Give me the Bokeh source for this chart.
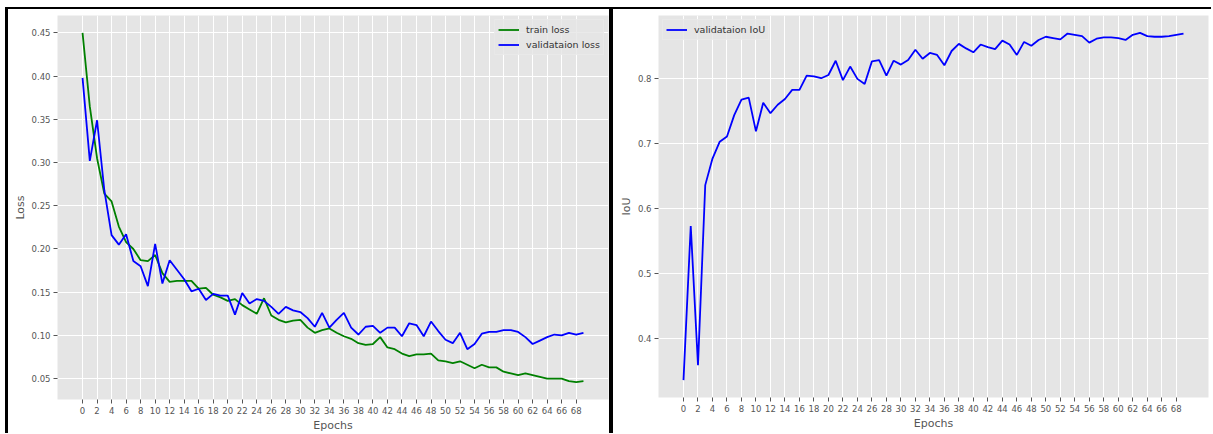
from bokeh.plotting import figure
from bokeh.models import Range1d, FixedTicker, Legend, LegendItem, PrintfTickFormatter
from bokeh.layouts import row
from bokeh.embed import file_html
from bokeh.resources import INLINE

epochs = list(range(70))

train_loss = [0.450, 0.365, 0.305, 0.264, 0.255, 0.226, 0.208, 0.200, 0.187, 0.186,
              0.193, 0.172, 0.162, 0.163, 0.163, 0.163, 0.154, 0.155, 0.147, 0.144,
              0.140, 0.142, 0.135, 0.130, 0.125, 0.143, 0.123, 0.118, 0.115, 0.117,
              0.118, 0.109, 0.103, 0.106, 0.108, 0.103, 0.099, 0.096, 0.091, 0.089,
              0.090, 0.098, 0.086, 0.084, 0.079, 0.076, 0.078, 0.078, 0.079, 0.071,
              0.070, 0.068, 0.070, 0.066, 0.062, 0.066, 0.063, 0.063, 0.058, 0.056,
              0.054, 0.056, 0.054, 0.052, 0.050, 0.050, 0.050, 0.047, 0.046, 0.047]

val_loss = [0.398, 0.302, 0.349, 0.268, 0.216, 0.205, 0.217, 0.186, 0.180, 0.157,
            0.206, 0.160, 0.187, 0.176, 0.165, 0.151, 0.154, 0.141, 0.148, 0.146,
            0.146, 0.124, 0.149, 0.137, 0.142, 0.140, 0.133, 0.125, 0.133, 0.129,
            0.127, 0.120, 0.110, 0.126, 0.109, 0.118, 0.126, 0.109, 0.101, 0.110,
            0.111, 0.103, 0.109, 0.109, 0.099, 0.114, 0.112, 0.099, 0.116, 0.105,
            0.095, 0.091, 0.103, 0.084, 0.090, 0.102, 0.104, 0.104, 0.106, 0.106,
            0.104, 0.098, 0.090, 0.094, 0.098, 0.101, 0.100, 0.103, 0.101, 0.103]

val_iou = [0.335, 0.573, 0.358, 0.636, 0.677, 0.703, 0.711, 0.744, 0.768, 0.771,
           0.719, 0.763, 0.747, 0.760, 0.769, 0.783, 0.783, 0.805, 0.804, 0.801,
           0.806, 0.828, 0.798, 0.819, 0.800, 0.792, 0.827, 0.829, 0.805, 0.828,
           0.822, 0.829, 0.845, 0.831, 0.840, 0.837, 0.821, 0.843, 0.854, 0.847,
           0.841, 0.853, 0.849, 0.846, 0.859, 0.853, 0.837, 0.857, 0.851, 0.860,
           0.865, 0.863, 0.861, 0.870, 0.868, 0.866, 0.856, 0.862, 0.864, 0.864,
           0.863, 0.860, 0.868, 0.871, 0.866, 0.865, 0.865, 0.866, 0.868, 0.870]

x_ticks = list(range(0, 69, 2))
loss_ticks = [0.05, 0.10, 0.15, 0.20, 0.25, 0.30, 0.35, 0.40, 0.45]
iou_ticks = [0.4, 0.5, 0.6, 0.7, 0.8]

FONT = "DejaVu Sans"
GRAY = "#555555"


def padded(lo, hi, frac=0.05):
    d = (hi - lo) * frac
    return Range1d(lo - d, hi + d)


def style(p, xlabel, ylabel, yticks, yfmt):
    p.background_fill_color = "#E5E5E5"
    p.border_fill_color = "white"
    p.outline_line_color = None
    p.grid.grid_line_color = "white"
    p.grid.grid_line_width = 1
    p.xaxis.ticker = FixedTicker(ticks=x_ticks)
    p.yaxis.ticker = FixedTicker(ticks=yticks)
    p.yaxis.formatter = PrintfTickFormatter(format=yfmt)
    p.xaxis.axis_label = xlabel
    p.yaxis.axis_label = ylabel
    for ax in p.axis:
        ax.axis_line_color = None
        ax.major_tick_line_color = GRAY
        ax.major_tick_in = 0
        ax.major_tick_out = 4
        ax.minor_tick_line_color = None
        ax.major_label_text_font = FONT
        ax.major_label_text_font_size = "8.5px"
        ax.major_label_text_color = GRAY
        ax.axis_label_text_font = FONT
        ax.axis_label_text_font_style = "normal"
        ax.axis_label_text_font_size = "11px"
        ax.axis_label_text_color = GRAY
    p.xaxis.major_label_standoff = 3
    p.xaxis.axis_label_standoff = 2
    p.yaxis.major_label_standoff = 3
    p.yaxis.axis_label_standoff = 2


def style_legend(lg):
    lg.background_fill_color = "#E5E5E5"
    lg.background_fill_alpha = 0.8
    lg.border_line_color = "#EEEEEE"
    lg.border_line_width = 1
    lg.label_text_font = FONT
    lg.label_text_font_size = "9.5px"
    lg.label_text_color = "#333333"
    lg.glyph_width = 21
    lg.glyph_height = 13
    lg.label_standoff = 7
    lg.label_height = 13
    lg.spacing = 2
    lg.padding = 3
    lg.margin = 4


# ---- left: losses ----
p1 = figure(frame_width=546, frame_height=382, output_backend="svg", toolbar_location=None,
            x_range=Range1d(-3.45, 72.45),
            y_range=padded(min(train_loss + val_loss), max(train_loss + val_loss)),
            min_border_left=49, min_border_right=6, min_border_top=6, min_border_bottom=36,
            margin=(7, 0, 0, 5),
            styles={"border-left": "3px solid black", "border-top": "2px solid black",
                    "border-right": "2px solid black"})
style(p1, "Epochs", "Loss", loss_ticks, "%.2f")
r_tr = p1.line(epochs, train_loss, line_color="green", line_width=1.8)
r_va = p1.line(epochs, val_loss, line_color="blue", line_width=1.8)
lg1 = Legend(items=[LegendItem(label="train loss", renderers=[r_tr]),
                    LegendItem(label="validataion loss", renderers=[r_va])],
             location="top_right")
style_legend(lg1)
p1.add_layout(lg1)

# ---- right: IoU ----
p2 = figure(frame_width=548, frame_height=380, output_backend="svg", toolbar_location=None,
            x_range=Range1d(-3.45, 72.45),
            y_range=padded(min(val_iou), max(val_iou)),
            min_border_left=45, min_border_right=5, min_border_top=6, min_border_bottom=38,
            margin=(7, 0, 0, 0),
            styles={"border-left": "2px solid black", "border-top": "2px solid black"})
style(p2, "Epochs", "IoU", iou_ticks, "%.1f")
r_iou = p2.line(epochs, val_iou, line_color="blue", line_width=1.8)
lg2 = Legend(items=[LegendItem(label="validataion IoU", renderers=[r_iou])],
             location="top_left")
style_legend(lg2)
p2.add_layout(lg2)

layout = row(p1, p2, spacing=0)

with open("out.html", "w") as f:
    f.write(file_html(layout, INLINE))
